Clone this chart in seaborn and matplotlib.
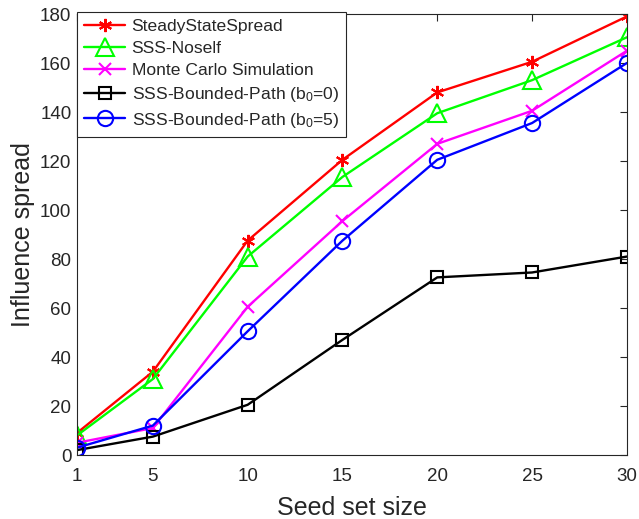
import matplotlib
matplotlib.use("Agg")
import matplotlib.pyplot as plt
import seaborn as sns
import pandas as pd

# data
seed_sizes = [1, 5, 10, 15, 20, 25, 30]
steady_state = [9, 34, 87.5, 120.5, 148, 160.5, 179]
sss_noself = [8, 31, 81, 113.5, 139.5, 153, 170.5]
monte_carlo = [5, 11, 60.5, 95.5, 127, 140.5, 165]
bounded_b0 = [2, 7.5, 20.5, 47, 72.5, 74.5, 81]
bounded_b5 = [3, 12, 50.5, 87.5, 120.5, 135.5, 160]

series_names = ["SteadyStateSpread", "SSS-Noself", "Monte Carlo Simulation",
                "SSS-Bounded-Path (b$_0$=0)", "SSS-Bounded-Path (b$_0$=5)"]
series_values = [steady_state, sss_noself, monte_carlo, bounded_b0, bounded_b5]
x_ticks = [1, 5, 10, 15, 20, 25, 30]
y_ticks = list(range(0, 181, 20))

sns.set_style("white")
plt.rcParams["font.family"] = ["Liberation Sans", "DejaVu Sans"]
plt.rcParams["mathtext.fontset"] = "custom"
plt.rcParams["mathtext.rm"] = "Liberation Sans"
plt.rcParams["mathtext.it"] = "Liberation Sans"
plt.rcParams["mathtext.default"] = "regular"

styles = [
    dict(color="#ff0000", marker=(6, 2, 0), markersize=9.5),
    dict(color="#00ff00", marker="^", markersize=13),
    dict(color="#ff00ff", marker="x", markersize=8.5),
    dict(color="#000000", marker="s", markersize=9),
    dict(color="#0000ff", marker="o", markersize=11),
]

fig = plt.figure(figsize=(6.39, 5.19), dpi=100)
ax = fig.add_axes([0.1205, 0.1233, 0.8605, 0.8497])

for name, vals, st in zip(series_names, series_values, styles):
    df = pd.DataFrame({"x": seed_sizes, "y": vals})
    sns.lineplot(data=df, x="x", y="y", ax=ax, label=name, color=st["color"],
                 marker=st["marker"], markersize=st["markersize"],
                 markerfacecolor="none", markeredgecolor=st["color"],
                 markeredgewidth=1.5, linewidth=1.7)

ax.set_xlim(1, 30)
ax.set_ylim(0, 180)
ax.set_xticks(x_ticks)
ax.set_yticks(y_ticks)
ax.set_xlabel("Seed set size", fontsize=18, color="#262626", labelpad=8)
ax.set_ylabel("Influence spread", fontsize=18, color="#262626", labelpad=4)
ax.tick_params(direction="in", top=True, right=True, labelsize=13.5,
               colors="#262626", length=5, width=0.8)
ax.tick_params(axis="x", pad=9)
ax.tick_params(axis="y", pad=4)
for sp in ax.spines.values():
    sp.set_color("#262626")
    sp.set_linewidth(0.8)

leg = ax.legend(loc="upper left", fontsize=12.6, fancybox=False, framealpha=1,
                edgecolor="#262626", handlelength=2.35, borderaxespad=0,
                borderpad=0.42, labelspacing=0.38, handletextpad=0.35,
                bbox_to_anchor=(0, 1.005))
leg.get_frame().set_linewidth(0.8)

plt.savefig("out.png", dpi=100)
